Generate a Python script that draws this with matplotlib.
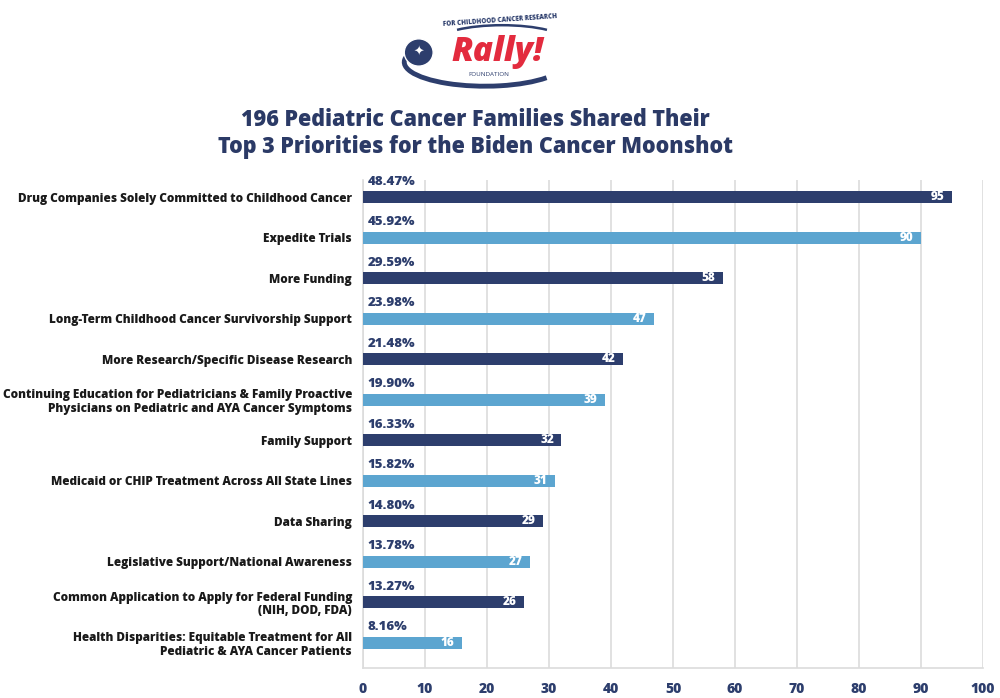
import matplotlib
matplotlib.use("Agg")
import matplotlib.pyplot as plt
from matplotlib.patches import Circle, Arc

categories = [
    "Drug Companies Solely Committed to Childhood Cancer",
    "Expedite Trials",
    "More Funding",
    "Long-Term Childhood Cancer Survivorship Support",
    "More Research/Specific Disease Research",
    "Continuing Education for Pediatricians & Family Proactive\nPhysicians on Pediatric and AYA Cancer Symptoms",
    "Family Support",
    "Medicaid or CHIP Treatment Across All State Lines",
    "Data Sharing",
    "Legislative Support/National Awareness",
    "Common Application to Apply for Federal Funding\n(NIH, DOD, FDA)",
    "Health Disparities: Equitable Treatment for All\nPediatric & AYA Cancer Patients",
]
counts = [95, 90, 58, 47, 42, 39, 32, 31, 29, 27, 26, 16]
percents = ["48.47%", "45.92%", "29.59%", "23.98%", "21.48%", "19.90%",
            "16.33%", "15.82%", "14.80%", "13.78%", "13.27%", "8.16%"]
xticks = [0, 10, 20, 30, 40, 50, 60, 70, 80, 90, 100]

NAVY = "#2d3e6d"
LIGHT = "#5ca5d0"
TITLE = "#2b3a66"
FONT = ["Open Sans", "DejaVu Sans"]
W = 800

plt.rcParams["font.family"] = FONT

fig = plt.figure(figsize=(10, 6.98), dpi=100)
ax = fig.add_axes([0.363, 0.043, 0.62, 0.699])

colors = [NAVY if i % 2 == 0 else LIGHT for i in range(len(counts))]
ypos = list(range(len(counts)))
ax.barh(ypos, counts, height=0.3, color=colors, zorder=3)

for y, c, p in zip(ypos, counts, percents):
    ax.text(c - 1.2, y, str(c), ha="right", va="center", color="white",
            fontsize=8.5, fontweight=W, zorder=4)
    ax.text(0.8, y - 0.38, p, ha="left", va="center", color=NAVY,
            fontsize=9.5, fontweight=W, zorder=4)

ax.set_xlim(0, 100)
ax.set_ylim(11.62, -0.42)
ax.set_xticks(xticks)
ax.set_xticklabels([str(t) for t in xticks], color=NAVY, fontsize=10,
                   fontweight=W)
ax.set_yticks(ypos)
ax.set_yticklabels(categories, fontsize=8.5, fontweight=W, color="#1a1a1a",
                   linespacing=1.15)
ax.tick_params(axis="both", length=0)
ax.tick_params(axis="y", pad=8)
ax.tick_params(axis="x", pad=10)
ax.grid(axis="x", color="#dcdcdc", linewidth=1.2, zorder=0)
for s in ["top", "right"]:
    ax.spines[s].set_visible(False)
ax.spines["left"].set_color("#dcdcdc")
ax.spines["bottom"].set_color("#dcdcdc")
ax.spines["left"].set_linewidth(1.2)
ax.spines["bottom"].set_linewidth(1.2)

fig.text(0.475, 0.828, "196 Pediatric Cancer Families Shared Their",
         ha="center", va="center", fontsize=15.5, fontweight=W, color=TITLE)
fig.text(0.475, 0.79, "Top 3 Priorities for the Biden Cancer Moonshot",
         ha="center", va="center", fontsize=15.5, fontweight=W, color=TITLE)

# simplified logo
lax = fig.add_axes([0.40, 0.865, 0.17, 0.115])
lax.set_xlim(0, 200)
lax.set_ylim(0, 100)
lax.axis("off")
lax.add_patch(Arc((100, 40), 190, 60, theta1=175, theta2=345, color=NAVY, lw=3.5))
lax.add_patch(Arc((120, 66), 150, 40, theta1=15, theta2=165, color=NAVY, lw=1.8))
lax.add_patch(Circle((22, 52), 17, facecolor=NAVY, edgecolor="white", lw=1))
lax.text(22, 52, "✦", ha="center", va="center", color="white", fontsize=9,
         family=["DejaVu Sans"])
lax.text(118, 92, "FOR CHILDHOOD CANCER RESEARCH", ha="center", va="center",
         color=NAVY, fontsize=4.5, fontweight=W, rotation=4)
lax.text(115, 52, "Rally!", ha="center", va="center", color="#e32b3e",
         fontsize=24, fontweight=W, style="italic")
lax.text(105, 24, "FOUNDATION", ha="center", va="center", color=NAVY,
         fontsize=4.5)

fig.savefig("out.png", dpi=100, facecolor="white")
